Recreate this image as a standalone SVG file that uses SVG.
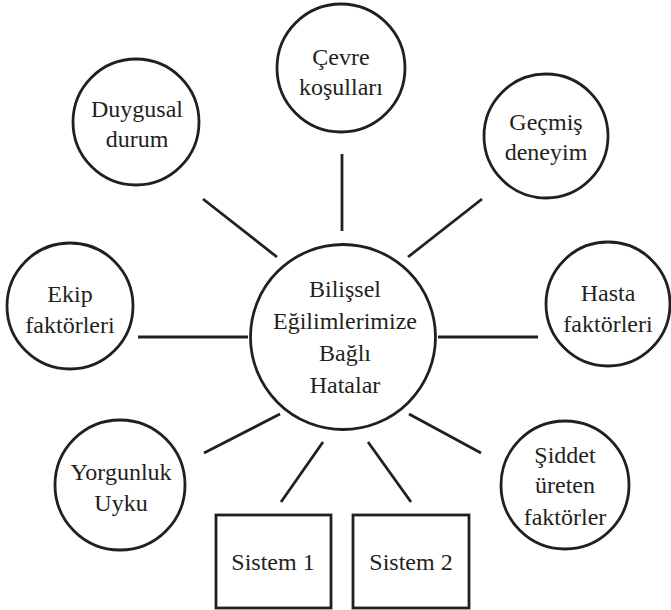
<svg xmlns="http://www.w3.org/2000/svg" width="671" height="610" viewBox="0 0 671 610">
<style>
.n{fill:#fff;stroke:#231f20;stroke-width:2.8}
.t{font-size:24px;fill:#231f20;text-anchor:middle}
.c line{stroke:#231f20;stroke-width:2.8;stroke-linecap:butt}
</style>
<rect width="671" height="610" fill="#fff"/>
<g class="c" id="connectors">
<line x1="342" y1="154" x2="342" y2="231"/>
<line x1="203" y1="199" x2="277" y2="257"/>
<line x1="482" y1="199" x2="408" y2="257"/>
<line x1="138" y1="337" x2="248" y2="337"/>
<line x1="438" y1="337" x2="538" y2="337"/>
<line x1="280" y1="414" x2="204" y2="453"/>
<line x1="409" y1="414" x2="481" y2="453"/>
<line x1="323" y1="442" x2="281" y2="502"/>
<line x1="368" y1="442" x2="411" y2="502"/>
</g>
<g font-family="Liberation Serif, DejaVu Serif, Times New Roman, serif">
<g id="center">
<circle class="n" cx="343" cy="337" r="92.5"/>
<text class="t" x="345" y="297">Bilişsel</text>
<text class="t" x="345" y="329">Eğilimlerimize</text>
<text class="t" x="345" y="361">Bağlı</text>
<text class="t" x="345" y="393">Hatalar</text>
</g>
<g id="cevre">
<circle class="n" cx="341" cy="68" r="64"/>
<text class="t" x="341" y="65">Çevre</text>
<text class="t" x="341" y="95">koşulları</text>
</g>
<g id="duygusal">
<circle class="n" cx="136" cy="122" r="63"/>
<text class="t" x="137" y="117">Duygusal</text>
<text class="t" x="137" y="147">durum</text>
</g>
<g id="gecmis">
<circle class="n" cx="546" cy="136" r="62"/>
<text class="t" x="546" y="130">Geçmiş</text>
<text class="t" x="546" y="160">deneyim</text>
</g>
<g id="ekip">
<circle class="n" cx="70" cy="306" r="63"/>
<text class="t" x="70" y="302">Ekip</text>
<text class="t" x="70" y="333">faktörleri</text>
</g>
<g id="hasta">
<circle class="n" cx="608" cy="304" r="62"/>
<text class="t" x="608" y="301">Hasta</text>
<text class="t" x="608" y="332">faktörleri</text>
</g>
<g id="yorgunluk">
<circle class="n" cx="120" cy="485" r="65"/>
<text class="t" x="121" y="480">Yorgunluk</text>
<text class="t" x="121" y="511">Uyku</text>
</g>
<g id="siddet">
<circle class="n" cx="565" cy="485" r="64"/>
<text class="t" x="565" y="463">Şiddet</text>
<text class="t" x="565" y="493">üreten</text>
<text class="t" x="565" y="525">faktörler</text>
</g>
<g id="sistem1">
<rect class="n" x="216" y="515" width="115" height="93"/>
<text class="t" x="273" y="570">Sistem 1</text>
</g>
<g id="sistem2">
<rect class="n" x="353" y="515" width="116" height="93"/>
<text class="t" x="411" y="570">Sistem 2</text>
</g>
</g>
</svg>
